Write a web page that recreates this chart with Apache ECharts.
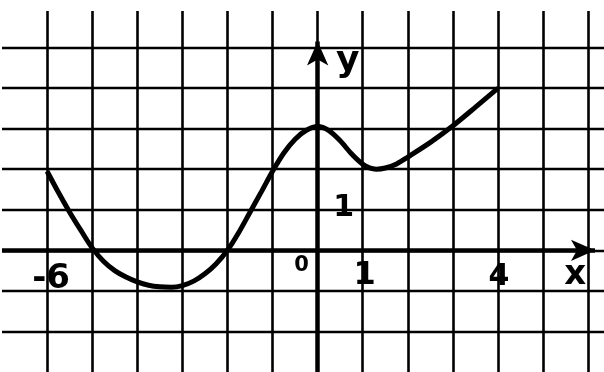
<!DOCTYPE html>
<html>
<head>
<meta charset="utf-8">
<script src="https://cdn.jsdelivr.net/npm/echarts@6/dist/echarts.min.js"></script>
<style>
  html, body { margin: 0; padding: 0; background: #fff; }
  #chart { width: 604px; height: 372px; }
</style>
</head>
<body>
<div id="chart"></div>
<script>
// curve (unit squares)
const curveX = [-6, -5.75, -5.5, -5.25, -5, -4.75, -4.5, -4.25, -4, -3.75, -3.5, -3.25, -3, -2.75, -2.5, -2.25, -2,
    -1.75, -1.5, -1.25, -1, -0.75, -0.5, -0.25, 0, 0.25, 0.5, 0.75, 1, 1.15, 1.3, 1.5, 1.75, 2, 2.5, 3, 3.5, 4]
const curveY = [1.95, 1.43, 0.94, 0.49, 0.06, -0.27, -0.5, -0.66, -0.78, -0.86, -0.9, -0.91, -0.87, -0.76, -0.58, -0.33, 0,
    0.44, 0.94, 1.44, 1.95, 2.4, 2.74, 2.96, 3.05, 2.95, 2.7, 2.38, 2.12, 2.03, 2.0, 2.03, 2.13, 2.3, 2.66, 3.07, 3.53, 4]

// labels written on the sheet
const xTickVals = [-6, 0, 1, 4]
const xTickText = ['-6', '0', '1', '4']
const yTickVals = [1]
const yTickText = ['1']

// axis arrows (ends in data units)
const xAxisEnds = [-7, 6.15]
const yAxisEnds = [-3, 5.15]

const ink = '#000'
const chart = echarts.init(document.getElementById('chart'))

const labelPoint = (x, y, text, offset, size) => ({
    value: [x, y],
    label: {
        show: true,
        position: 'inside',
        formatter: text,
        offset: offset,
        fontSize: size,
        fontWeight: 'bold',
        fontFamily: 'DejaVu Sans',
        color: ink,
        opacity: 1
    }
})

const xOffsets = [[4, 29], [-16, 15], [2, 25], [1, 27]]
const xSizes = [34, 21, 32, 30]

const labels = []
xTickVals.forEach((v, i) => labels.push(labelPoint(v, 0, xTickText[i], xOffsets[i], xSizes[i])))
yTickVals.forEach((v, i) => labels.push(labelPoint(0, v, yTickText[i], [26, -2], 30)))
labels.push(labelPoint(0, 5, 'y', [30, 14], 36))
labels.push(labelPoint(6, 0, 'x', [-13, 25], 34))

chart.setOption({
    backgroundColor: '#fff',
    animation: false,
    grid: { left: 2, right: -1, top: 11, bottom: -7 },
    xAxis: {
        type: 'value',
        min: -7,
        max: 6.35,
        interval: 1,
        axisLine: { show: false },
        axisTick: { show: false },
        axisLabel: { show: false },
        splitLine: { show: true, showMinLine: false, showMaxLine: false, lineStyle: { color: ink, width: 2.6 } }
    },
    yAxis: {
        type: 'value',
        min: -3,
        max: 5.9,
        interval: 1,
        axisLine: { show: false },
        axisTick: { show: false },
        axisLabel: { show: false },
        splitLine: { show: true, showMinLine: false, showMaxLine: false, lineStyle: { color: ink, width: 2.4 } }
    },
    series: [
        {
            type: 'line',
            data: [],
            silent: true,
            markLine: {
                silent: true,
                symbol: ['none', 'arrow'],
                symbolSize: [16, 24],
                label: { show: false },
                lineStyle: { color: ink, width: 4.5, type: 'solid' },
                data: [
                    [{ coord: [xAxisEnds[0], 0] }, { coord: [xAxisEnds[1], 0] }],
                    [{ coord: [0, yAxisEnds[0]] }, { coord: [0, yAxisEnds[1]] }]
                ]
            }
        },
        {
            type: 'line',
            smooth: 0.3,
            symbol: 'none',
            lineStyle: { color: ink, width: 5 },
            data: curveX.map((x, i) => [x, curveY[i]])
        },
        {
            type: 'scatter',
            symbolSize: 0,
            itemStyle: { opacity: 1 },
            data: labels
        }
    ]
})
</script>
</body>
</html>
